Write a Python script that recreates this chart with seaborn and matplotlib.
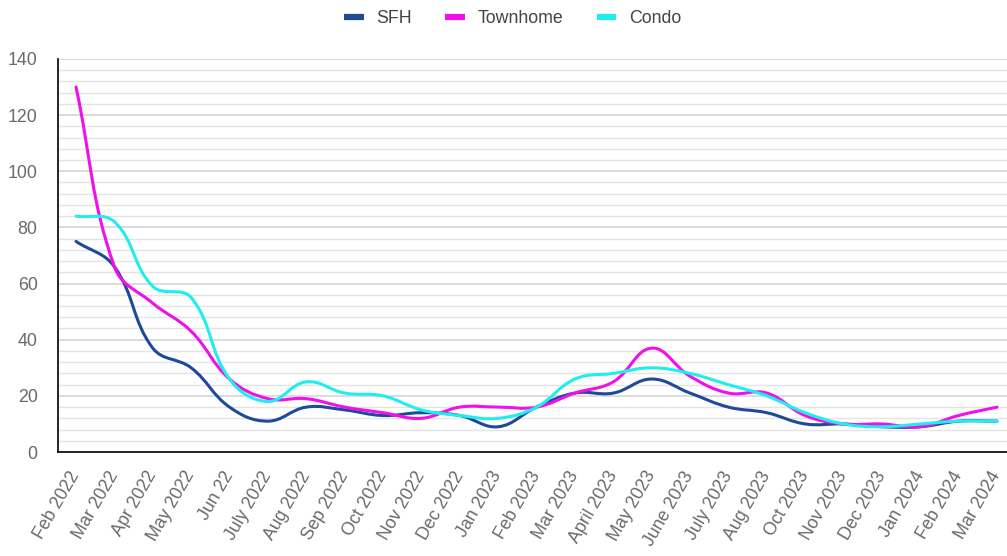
import numpy as np
import pandas as pd
import matplotlib
matplotlib.use('Agg')
import matplotlib.pyplot as plt
from matplotlib.path import Path
from matplotlib.patches import PathPatch
from matplotlib.lines import Line2D
from matplotlib.ticker import MultipleLocator
import seaborn as sns

# data
months = ['Feb 2022', 'Mar 2022', 'Apr 2022', 'May 2022', 'Jun 22', 'July 2022', 'Aug 2022',
          'Sep 2022', 'Oct 2022', 'Nov 2022', 'Dec 2022', 'Jan 2023', 'Feb 2023', 'Mar 2023',
          'April 2023', 'May 2023', 'June 2023', 'July 2023', 'Aug 2023', 'Oct 2023', 'Nov 2023',
          'Dec 2023', 'Jan 2024', 'Feb 2024', 'Mar 2024']
sfh = [75, 66, 37, 30, 16, 11, 16, 15, 13, 14, 13, 9, 16, 21, 21, 26, 21, 16, 14, 10, 10, 9, 9, 11, 11]
townhome = [130, 66, 53, 43, 26, 19, 19, 16, 14, 12, 16, 16, 16, 21, 25, 37, 27, 21, 21, 13, 10, 10, 9, 13, 16]
condo = [84, 82, 59, 55, 26, 18, 25, 21, 20, 15, 13, 12, 16, 26, 28, 30, 28, 24, 20, 14, 10, 9, 10, 11, 11]

series = ['SFH', 'Townhome', 'Condo']
color_map = {'SFH': '#1f4a9a', 'Townhome': '#f010ea', 'Condo': '#20eeee'}

df = pd.DataFrame({'idx': np.arange(len(months)), 'SFH': sfh, 'Townhome': townhome, 'Condo': condo})
df_long = df.melt(id_vars='idx', var_name='type', value_name='value')


def smooth_path(ax, xs, ys, tension=0.4):
    """Bezier path through the points, control points like a tension spline in pixel space."""
    pts = ax.transData.transform(np.column_stack([xs, ys]))
    n = len(pts)
    verts, codes = [pts[0]], [Path.MOVETO]
    ctrl = []
    for i in range(n):
        prev = pts[max(i - 1, 0)]
        cur = pts[i]
        nxt = pts[min(i + 1, n - 1)]
        d01 = np.hypot(*(cur - prev))
        d12 = np.hypot(*(nxt - cur))
        tot = d01 + d12
        s01 = d01 / tot if tot else 0
        s12 = d12 / tot if tot else 0
        ctrl.append((cur - tension * s01 * (nxt - prev), cur + tension * s12 * (nxt - prev)))
    for i in range(1, n):
        verts += [ctrl[i - 1][1], ctrl[i][0], pts[i]]
        codes += [Path.CURVE4] * 3
    verts = ax.transData.inverted().transform(np.array(verts))
    return Path(verts, codes)


sns.set_style('white')
plt.rcParams['font.family'] = ['Liberation Sans', 'DejaVu Sans']

fig = plt.figure(figsize=(10.07, 5.56), dpi=100)
ax = fig.add_axes([0.0576, 0.187, 0.9424, 0.707])

sns.lineplot(data=df_long, x='idx', y='value', hue='type', hue_order=series,
             palette=color_map, linewidth=2.2, legend=False, ax=ax)
ax.set_xlim(-0.47, 24.26)
ax.set_ylim(0, 140)

# replace straight segments with smooth curves
for line in list(ax.lines):
    path = smooth_path(ax, line.get_xdata(), line.get_ydata())
    ax.add_patch(PathPatch(path, facecolor='none', edgecolor=line.get_color(),
                           linewidth=2.2, capstyle='round', joinstyle='round', zorder=3))
    line.set_visible(False)

# grid
ax.yaxis.set_major_locator(MultipleLocator(20))
ax.yaxis.set_minor_locator(MultipleLocator(4))
ax.grid(which='major', axis='y', color='#d2d2d2', linewidth=1.1)
ax.grid(which='minor', axis='y', color='#e4e4e4', linewidth=1.0)
ax.grid(axis='x', visible=False)
ax.set_axisbelow(True)

for side in ['top', 'right']:
    ax.spines[side].set_visible(False)
for side in ['left', 'bottom']:
    ax.spines[side].set_color('black')
    ax.spines[side].set_linewidth(1.2)

ax.set_xticks(df['idx'])
ax.set_xticklabels(months, rotation=60, ha='right', va='center', rotation_mode='anchor')
ax.tick_params(which='major', direction='inout', length=13.5, width=1.1, color='black',
               labelcolor='#6a6a6a', labelsize=12.8)
ax.tick_params(axis='x', pad=8)
ax.tick_params(axis='y', pad=8)
ax.tick_params(which='minor', length=0)
ax.set_xlabel('')
ax.set_ylabel('')

handles = [Line2D([0], [0], color=color_map[s], linewidth=4.5, solid_capstyle='butt') for s in series]
fig.legend(handles, series, loc='center', bbox_to_anchor=(0.509, 0.966), ncol=3, frameon=False,
           fontsize=12.8, handlelength=1.1, handletextpad=0.7, columnspacing=1.9,
           labelcolor='#444444')

fig.savefig('out.png', dpi=100)
